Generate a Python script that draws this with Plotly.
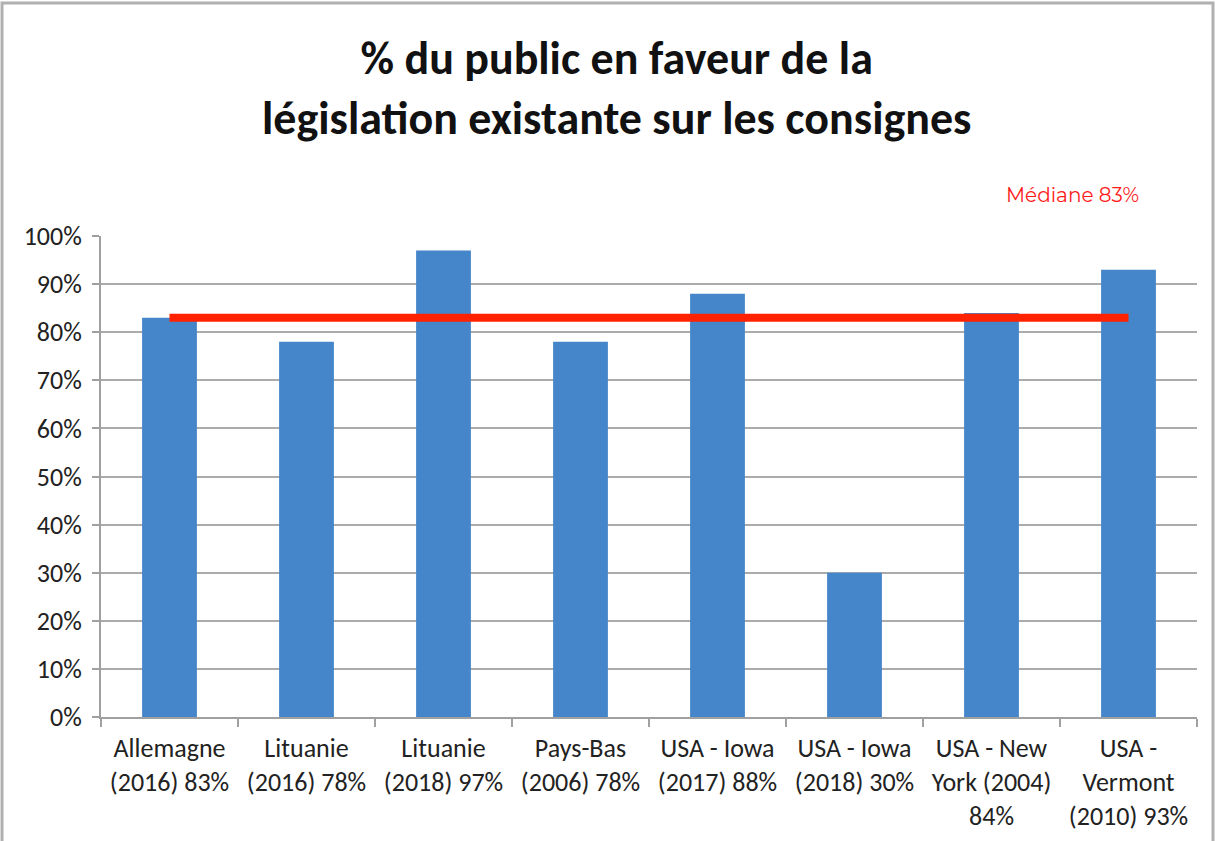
import plotly.graph_objects as go

categories = [
    "Allemagne<br>(2016) 83%",
    "Lituanie<br>(2016) 78%",
    "Lituanie<br>(2018) 97%",
    "Pays-Bas<br>(2006) 78%",
    "USA - Iowa<br>(2017) 88%",
    "USA - Iowa<br>(2018) 30%",
    "USA - New<br>York (2004)<br>84%",
    "USA -<br>Vermont<br>(2010) 93%",
]
values = [83, 78, 97, 78, 88, 30, 84, 93]
median_value = 83
y_ticks = [0, 10, 20, 30, 40, 50, 60, 70, 80, 90, 100]
y_tick_labels = [f"{v}%" for v in y_ticks]

fig = go.Figure()
fig.add_trace(go.Bar(
    x=categories, y=values,
    marker=dict(color="#4586ca", line=dict(width=0)),
    width=0.4, showlegend=False, hoverinfo="skip",
))
fig.add_trace(go.Scatter(
    x=[categories[0], categories[-1]], y=[median_value, median_value],
    mode="lines", line=dict(color="#ff2200", width=8),
    showlegend=False, hoverinfo="skip",
))

axis_font = dict(family="Carlito, Lato, sans-serif", size=26, color="#222222")

fig.update_layout(
    width=1228, height=841,
    margin=dict(l=101, r=31, t=236, b=124),
    paper_bgcolor="white", plot_bgcolor="white",
    xaxis=dict(
        type="category", showgrid=False, showline=True, linecolor="#a0a0a0", linewidth=2,
        ticks="outside", tickson="boundaries", ticklen=8, tickcolor="#a0a0a0", tickwidth=2,
        tickfont=axis_font, tickangle=0, ticklabelstandoff=7, automargin=False,
    ),
    yaxis=dict(
        range=[0, 100], tickvals=y_ticks, ticktext=y_tick_labels,
        showgrid=True, gridcolor="#ababab", gridwidth=2,
        showline=True, linecolor="#a0a0a0", linewidth=2,
        ticks="outside", ticklen=7, tickcolor="#a0a0a0", tickwidth=2,
        tickfont=axis_font, zeroline=False, ticklabelstandoff=5, automargin=False,
    ),
    annotations=[
        dict(text="% du public en faveur de la<br>législation existante sur les consignes",
             xref="paper", yref="paper", x=0.47, y=1.307, xanchor="center", yanchor="middle",
             showarrow=False,
             font=dict(family="Carlito, Lato, sans-serif", size=46, color="#111111", weight="bold")),
        dict(text="Médiane 83%", xref="paper", yref="paper", x=0.886, y=1.085,
             xanchor="center", yanchor="middle", showarrow=False,
             font=dict(family="Montserrat, Lato, sans-serif", size=20, color="#ff1a1a")),
    ],
    shapes=[
        dict(type="rect", xref="paper", yref="paper",
             x0=-0.0903, x1=1.0146, y0=-0.5, y1=1.4844,
             line=dict(color="#b0b0b0", width=3), fillcolor="rgba(0,0,0,0)", layer="below"),
    ],
)

fig.write_html("out.html", config={"displayModeBar": False},
               post_script="document.body.style.margin='0';")
